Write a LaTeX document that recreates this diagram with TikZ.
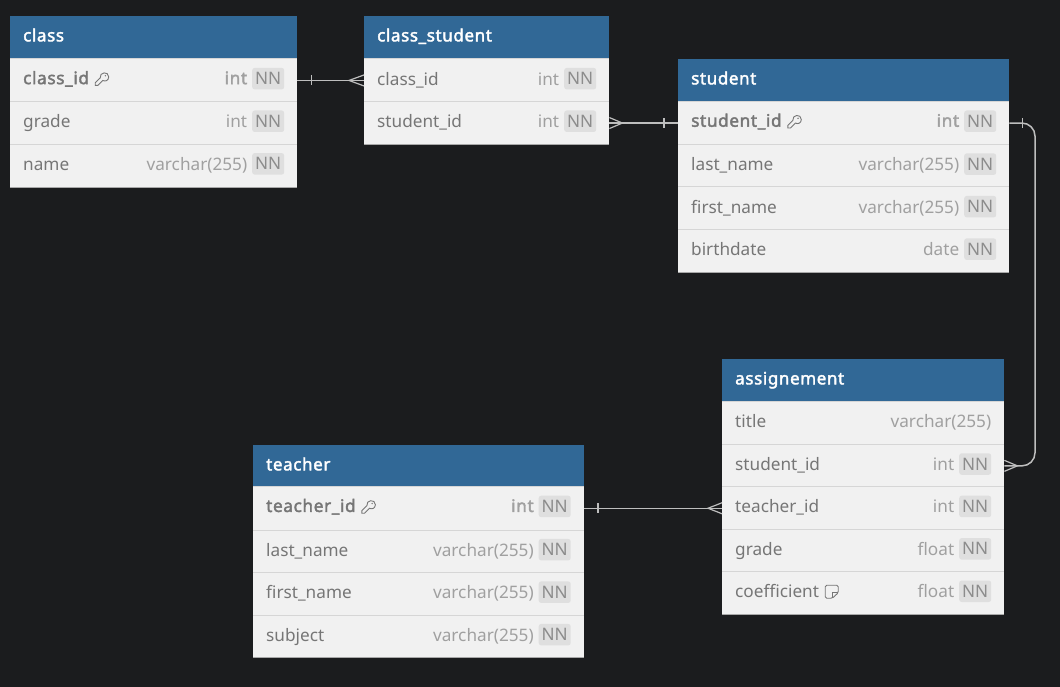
\documentclass[tikz,border=0pt]{standalone}
\usepackage{fontspec}
\setmainfont{Noto Sans}[BoldFont={Noto Sans},BoldFeatures={FakeBold=2.2,LetterSpace=3.6}]
\usetikzlibrary{calc}
\definecolor{bgc}{HTML}{1B1C1E}
\definecolor{headc}{HTML}{316896}
\definecolor{rowc}{HTML}{F1F1F1}
\definecolor{sepc}{HTML}{D6D6D6}
\definecolor{edgec}{HTML}{A8A8A8}
\definecolor{namec}{HTML}{767676}
\definecolor{typec}{HTML}{A0A0A0}
\definecolor{badgec}{HTML}{DFDFDF}
\definecolor{nnc}{HTML}{8C8C8C}
\definecolor{linkc}{HTML}{BEBEBE}
\tikzset{
  headbox/.style={draw=none,fill=headc,inner sep=0pt,anchor=north west,minimum height=43pt},
  rowbox/.style={draw=none,fill=rowc,inner sep=0pt,anchor=north west,minimum height=42.5pt},
  headtext/.style={inner sep=0pt,anchor=mid west,yshift=1pt,text=white,font=\fontsize{17}{18}\selectfont\bfseries},
  nametext/.style={inner sep=0pt,anchor=mid west,text=namec,font=\fontsize{17.2}{18}\selectfont},
  keytext/.style={nametext,yshift=1pt,font=\fontsize{17.2}{18}\selectfont\bfseries},
  typetext/.style={inner sep=0pt,anchor=mid east,text=typec,font=\fontsize{17.2}{18}\selectfont},
  keytype/.style={typetext,yshift=1pt,font=\fontsize{17.2}{18}\selectfont\bfseries},
  nnbadge/.style={inner sep=0pt,fill=badgec,rounded corners=2.5pt,minimum width=32pt,minimum height=21.5pt,anchor=east,text=nnc,font=\fontsize{17.2}{18}\selectfont},
  sepline/.style={draw=sepc,line width=1pt},
  edgeline/.style={draw=edgec,line width=1pt},
  link/.style={draw=linkc,line width=1.5pt},
  iconline/.style={draw=namec,line width=0.9pt},
}
% \tablehead{id}{x}{y}{w}{title}
\newcommand{\tablehead}[5]{%
  \node[headbox,minimum width=#4pt] (#1) at (#2,#3) {};
  \node[headtext] (#1-t) at ($(#1.west)+(13,2)$) {#5};
}
% \tablerow{id}{x}{y}{w}{label}{type}{labelstyle}{typestyle}
\newcommand{\tablerow}[8]{%
  \node[rowbox,minimum width=#4pt] (#1) at (#2,#3) {};
  \node[#7] (#1-n) at ($(#1.west)+(13,2)$) {#5};
  \node[nnbadge] (#1-b) at ($(#1.east)+(-13,-1.8)$) {NN};
  \node[#8] (#1-y) at ($(#1.east)+(-50,2)$) {#6};
  \draw[sepline] (#1.north west) -- (#1.north east);
}
% \plainrow{id}{x}{y}{w}{label}{type}: a row with no NN badge
\newcommand{\plainrow}[6]{%
  \node[rowbox,minimum width=#4pt] (#1) at (#2,#3) {};
  \node[nametext] (#1-n) at ($(#1.west)+(13,2)$) {#5};
  \node[typetext] (#1-y) at ($(#1.east)+(-13,2)$) {#6};
  \draw[sepline] (#1.north west) -- (#1.north east);
}
\newcommand{\tablefoot}[1]{\draw[edgeline] (#1.south west) -- (#1.south east);}
\newcommand{\keyicon}[1]{%
  \begin{scope}[shift={($(#1.east)+(5,0)$)}]
    \draw[iconline] (1,6.5) -- (1,3.8) -- (6,-1) .. controls (5,-7) and (14.5,-8) .. (14.5,-2) .. controls (14.5,2) and (10.5,2.8) .. (8.6,1.5) -- (3.6,6.5) -- cycle;
    \fill[namec] (11.2,-3.2) circle (0.8);
  \end{scope}
}
\newcommand{\noteicon}[1]{%
  \begin{scope}[shift={($(#1.east)+(5,0.5)$)}]
    \draw[iconline,rounded corners=1.5pt] (1,-6.5) -- (14,-6.5) -- (14,1) -- (8,6.5) -- (1,6.5) -- cycle;
    \draw[iconline] (14,1) -- (8,1) -- (8,6.5);
  \end{scope}
}
% \onetick{node.anchor}{dx}
\newcommand{\onetick}[2]{\draw[link,line width=1.2pt] ([shift={(#2,-5)}]#1) -- ([shift={(#2,5)}]#1);}
% \manyfoot{node.anchor}{dx}: apex dx away from anchor
\newcommand{\manyfoot}[2]{\draw[link,line width=1.2pt] ([shift={(0,-5.5)}]#1) -- ([shift={(#2,0)}]#1) -- ([shift={(0,5.5)}]#1);}
\begin{document}
\begin{tikzpicture}[x=1pt,y=-1pt]
\useasboundingbox[fill=bgc] (0,0) rectangle (1060,687);

% class
\tablehead{cl}{10}{16}{287}{class}
\tablerow{cl1}{10}{59}{287}{class\_id}{int}{keytext}{keytype}
\tablerow{cl2}{10}{101.6}{287}{grade}{int}{nametext}{typetext}
\tablerow{cl3}{10}{144.2}{287}{name}{varchar(255)}{nametext}{typetext}
\tablefoot{cl3}
\keyicon{cl1-n}

% class_student
\tablehead{cs}{364}{16}{245}{class\_student}
\tablerow{cs1}{364}{59}{245}{class\_id}{int}{nametext}{typetext}
\tablerow{cs2}{364}{101.6}{245}{student\_id}{int}{nametext}{typetext}
\tablefoot{cs2}

% student
\tablehead{st}{678}{59}{331}{student}
\tablerow{st1}{678}{101.6}{331}{student\_id}{int}{keytext}{keytype}
\tablerow{st2}{678}{144.5}{331}{last\_name}{varchar(255)}{nametext}{typetext}
\tablerow{st3}{678}{187}{331}{first\_name}{varchar(255)}{nametext}{typetext}
\tablerow{st4}{678}{229.5}{331}{birthdate}{date}{nametext}{typetext}
\tablefoot{st4}
\keyicon{st1-n}

% assignement
\tablehead{as}{722}{359}{282}{assignement}
\plainrow{as1}{722}{401.6}{282}{title}{varchar(255)}
\tablerow{as2}{722}{444.4}{282}{student\_id}{int}{nametext}{typetext}
\tablerow{as3}{722}{486.8}{282}{teacher\_id}{int}{nametext}{typetext}
\tablerow{as4}{722}{529.2}{282}{grade}{float}{nametext}{typetext}
\tablerow{as5}{722}{571.6}{282}{coefficient}{float}{nametext}{typetext}
\tablefoot{as5}
\noteicon{as5-n}

% teacher
\tablehead{te}{253}{445}{330.5}{teacher}
\tablerow{te1}{253}{486.8}{330.5}{teacher\_id}{int}{keytext}{keytype}
\tablerow{te2}{253}{530}{330.5}{last\_name}{varchar(255)}{nametext}{typetext}
\tablerow{te3}{253}{572.5}{330.5}{first\_name}{varchar(255)}{nametext}{typetext}
\tablerow{te4}{253}{615}{330.5}{subject}{varchar(255)}{nametext}{typetext}
\tablefoot{te4}
\keyicon{te1-n}

% connectors
\draw[link] (cl1.east) -- (cs1.west);
\onetick{cl1.east}{14}
\manyfoot{cs1.west}{-15}

\draw[link] (cs2.east) -- (st1.west);
\manyfoot{cs2.east}{13}
\onetick{st1.west}{-14}

\coordinate (bend) at (1035,0);
\draw[link,rounded corners=13pt] (st1.east) -- (st1.east -| bend) -- (as2.east -| bend) -- (as2.east);
\onetick{st1.east}{13}
\manyfoot{as2.east}{13}

\draw[link] (te1.east) -- (as3.west);
\onetick{te1.east}{14}
\manyfoot{as3.west}{-14}
\end{tikzpicture}
\end{document}
